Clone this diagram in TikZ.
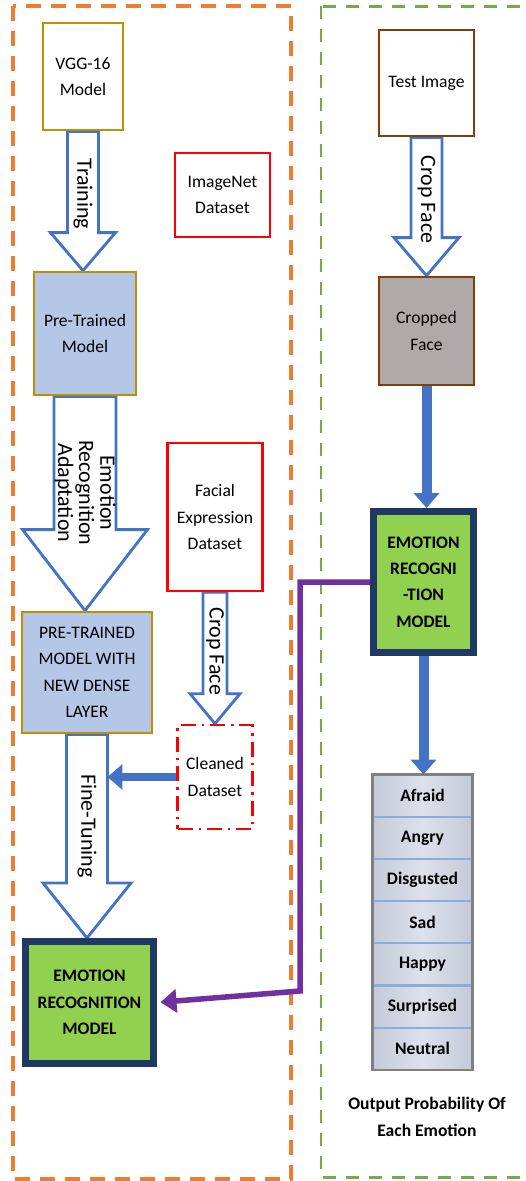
\documentclass[tikz,border=0pt]{standalone}
\usepackage{fontspec}
\setmainfont{Carlito}
\usepackage{tikz}
\usetikzlibrary{arrows.meta,calc,fit,positioning,backgrounds}

\definecolor{frameorange}{HTML}{ED7D31}
\definecolor{framegreen}{HTML}{70AD47}
\definecolor{boxgold}{HTML}{BF9000}
\definecolor{arrowblue}{HTML}{4472C4}
\definecolor{modelblue}{HTML}{B4C7E7}
\definecolor{modelnavy}{HTML}{203864}
\definecolor{modelgreen}{HTML}{92D050}
\definecolor{imgbrown}{HTML}{843C0C}
\definecolor{facegray}{HTML}{AEAAAA}
\definecolor{linkpurple}{HTML}{7030A0}
\definecolor{cellfill}{HTML}{DCE1EA}
\definecolor{cellside}{HTML}{C3CAD8}
\definecolor{cellline}{HTML}{8FAADC}

% hollow block arrow: from, to, half shaft, half head, head length, label
\newcommand{\blockarrow}[6]{%
	\coordinate (tip) at (#1.south |- #2.north);
	\draw[hollowarrow] ($(#1.south)+(-#3,0)$) -- ($(tip)+(-#3,#5)$) -- ($(tip)+(-#4,#5)$) -- (tip)
		-- ($(tip)+(#4,#5)$) -- ($(tip)+(#3,#5)$) -- ($(#1.south)+(#3,0)$) -- cycle;
	\node[arrowlabel] (#1-label) at ($(#1.south)!0.45!(tip)$) {#6};
}

\begin{document}
\begin{tikzpicture}[x=0.02cm, y=0.02cm, every node/.style = {align=center, font=\fontsize{10}{15}\selectfont}]
			\tikzset{
				boxsize/.style n args={2}{minimum width=#1, minimum height=#2},
				stage/.style = {draw=boxgold, line width=1.6pt},
				dataset/.style = {draw=red, line width=1.5pt, fill=white},
				cleaned/.style = {draw=red, line width=1.5pt, dash pattern=on 0.3cm off 0.12cm on 0.05cm off 0.12cm},
				picture box/.style = {draw=imgbrown, line width=1.6pt},
				model/.style = {draw=modelnavy, line width=4pt, fill=modelgreen, font=\fontsize{10}{15}\selectfont\bfseries},
				cell/.style = {draw=cellline, line width=0.6pt, left color=cellside, right color=cellside, middle color=cellfill,
					minimum width=1.98cm, minimum height=0.823cm, inner sep=0pt, font=\fontsize{10}{15}\selectfont\bfseries},
				hollowarrow/.style = {draw=arrowblue, line width=1.6pt, fill=white, line join=miter},
				arrowlabel/.style = {rotate=-90, inner sep=0pt, font=\fontsize{12.5}{12}\selectfont},
				flow/.style = {draw=arrowblue, line width=0.2cm, -{Triangle[length=0.3cm, width=0.5cm]}},
				feedback/.style = {draw=linkpurple, line width=0.11cm, -{Triangle[length=0.32cm, width=0.46cm]}, shorten >=0.07cm}
			}

			\useasboundingbox (0,0) rectangle (525,-1181);
			\clip (0,0) rectangle (525,-1181);

			% frames
			\draw[frameorange, line width=1.9pt, dash pattern=on 0.3cm off 0.2cm] (13,-6) rectangle (291,-1179);
			\draw[framegreen, line width=1.7pt, dash pattern=on 0.26cm off 0.2cm] (321,-6) rectangle (560,-1177);

			% training side
			\node[stage, fill=white, boxsize={1.6cm}{2.14cm}] (vgg) at (83,-76.5) {VGG-16\\Model};
			\node[dataset, boxsize={1.9cm}{1.68cm}] (imagenet) at (222.5,-195) {ImageNet\\Dataset};
			\node[stage, fill=modelblue, boxsize={2.04cm}{2.46cm}] (pretrained) at (85,-333.5) {Pre-Trained\\Model};
			\node[dataset, boxsize={1.9cm}{2.96cm}] (facial) at (215,-517) {Facial\\Expression\\Dataset};
			\node[stage, fill=modelblue, boxsize={2.6cm}{2.42cm}] (dense) at (87,-672.5) {PRE-TRAINED\\MODEL WITH\\NEW DENSE\\LAYER};
			\node[cleaned, boxsize={1.5cm}{2.08cm}] (clean) at (215,-777) {Cleaned\\Dataset};
			\node[model, boxsize={2.56cm}{2.44cm}] (emoleft) at (89.5,-1002.5) {EMOTION\\RECOGNITION\\MODEL};

			% testing side
			\node[picture box, fill=white, boxsize={1.9cm}{2.12cm}] (test) at (426.5,-83) {Test Image};
			\node[picture box, fill=facegray, boxsize={1.9cm}{2.16cm}] (cropped) at (426.5,-331) {Cropped\\Face};
			\node[model, boxsize={2cm}{2.82cm}] (emoright) at (423.5,-582) {EMOTION\\RECOGNI\\-TION\\MODEL};

			\node[cell] (afraid) at (422.5,-795.6) {Afraid};
			\node[cell, below=0pt of afraid] (angry) {Angry};
			\node[cell, below=0pt of angry] (disgusted) {Disgusted};
			\node[cell, below=0pt of disgusted] (sad) {Sad};
			\node[cell, below=0pt of sad] (happy) {Happy};
			\node[cell, below=0pt of happy] (surprised) {Surprised};
			\node[cell, below=0pt of surprised] (neutral) {Neutral};
			\node[fit=(afraid)(neutral), draw=gray, line width=1.2pt, inner sep=0pt] (emotions) {};
			\node[font=\fontsize{10}{15}\selectfont\bfseries] (caption) at (427,-1117) {Output Probability Of\\Each Emotion};

			\begin{scope}[on background layer]
				\blockarrow{vgg}{pretrained}{15.5}{32.5}{38}{Training}
				\blockarrow{pretrained}{dense}{31}{62.5}{81}{Emotion\\Recognition\\Adaptation}
				\blockarrow{dense}{emoleft}{20.5}{44}{55}{Fine-Tuning}
				\blockarrow{facial}{clean}{12}{25}{30}{Crop Face}
				\blockarrow{test}{cropped}{15.5}{32.5}{38}{Crop Face}
			\end{scope}

			\coordinate (finetip) at ($(dense.south |- clean.west)+(20.5,0)$);
			\draw[flow, line width=0.16cm] (clean.west) -- (finetip);
			\draw[flow] (cropped.south) -- (cropped.south |- emoright.north);
			\draw[flow] (emoright.south) -- (emoright.south |- afraid.north);

			\coordinate (bend) at (300,-991);
			\draw[feedback] (emoright.west) -| (bend) -- (emoleft.east);
		\end{tikzpicture}
\end{document}
